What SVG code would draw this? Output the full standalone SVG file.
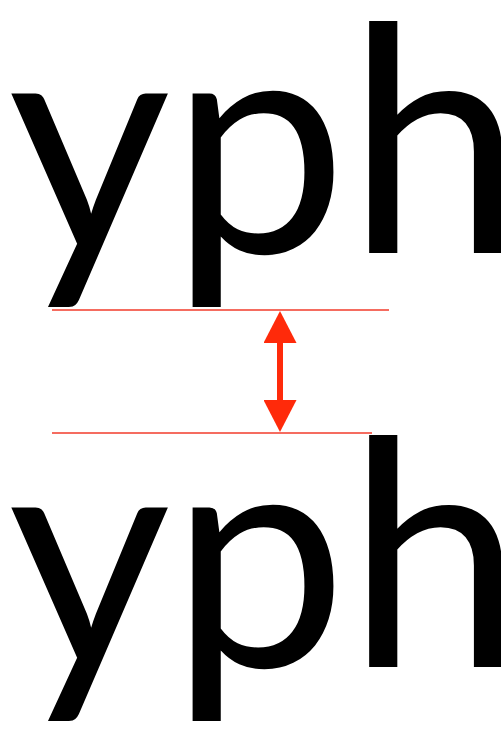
<svg xmlns="http://www.w3.org/2000/svg" width="501" height="729" viewBox="0 0 501 729">
<style>
.g{font-family:"Lato","Open Sans",sans-serif;font-size:315px;fill:#000}
.ln{stroke:#f23b2b;stroke-width:1.5;fill:none}
.ar{stroke:#ff2a0a;stroke-width:6;fill:none}
</style>
<defs>
<marker id="head" viewBox="0 0 32 33" markerWidth="32" markerHeight="33" markerUnits="userSpaceOnUse" refX="0" refY="16.5" orient="auto-start-reverse">
<path d="M0,0 L32,16.5 L0,33 z" fill="#ff2a0a"/>
</marker>
</defs>
<rect width="501" height="729" fill="#fff"/>
<g id="top"><text class="g" x="8" y="253">yph</text></g>
<g id="bottom"><text class="g" x="8" y="667">yph</text></g>
<g id="connectors">
<line class="ln" x1="52" y1="310" x2="389" y2="310"/>
<line class="ln" x1="52" y1="433" x2="372" y2="433"/>
<line class="ar" x1="280" y1="343" x2="280" y2="400" marker-start="url(#head)" marker-end="url(#head)"/>
</g>
</svg>
